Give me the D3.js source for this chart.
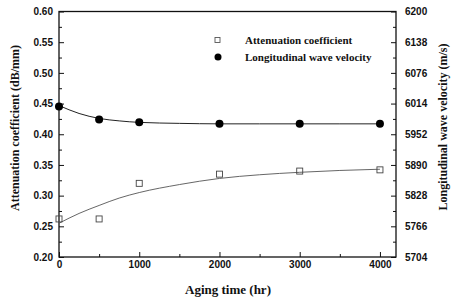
<!DOCTYPE html>
<html>
<head>
<meta charset="utf-8">
<script src="https://cdn.jsdelivr.net/npm/d3@7"></script>
<style>
  body { margin: 0; background: #fff; }
  .tick text { font-family: "Liberation Sans", Arial, sans-serif; font-weight: bold; font-size: 10px; fill: #111; }
  .title { font-family: "Liberation Serif", "Times New Roman", serif; font-weight: bold; font-size: 12px; fill: #111; }
  .legend { font-family: "Liberation Serif", "Times New Roman", serif; font-weight: bold; font-size: 11px; fill: #111; }
</style>
</head>
<body>
<div class="chart"></div>
<script>
const WIDTH = 451;
const HEIGHT = 303;
const LEFT = 59, RIGHT = 396, TOP = 11.5, BOTTOM = 257;

// measured points
var agingTime = [0, 500, 1000, 2000, 3000, 4000];
var attenuation = [0.262, 0.262, 0.320, 0.335, 0.340, 0.342];
var velocity = [6008, 5982, 5976, 5973, 5973, 5973];

// fitted curves
var fitTime = [0, 250, 500, 750, 1000, 1500, 2000, 2500, 3000, 3500, 4000];
var attenuationFit = [0.255, 0.271, 0.284, 0.296, 0.305, 0.318, 0.328, 0.334, 0.338, 0.341, 0.343];
var velocityFit = [6010, 5994, 5984, 5979, 5976, 5974, 5973, 5973, 5973, 5973, 5973];

var xTicks = [0, 1000, 2000, 3000, 4000];
var xMinor = [500, 1500, 2500, 3500];
var leftTicks = [0.20, 0.25, 0.30, 0.35, 0.40, 0.45, 0.50, 0.55, 0.60];
var leftMinor = [0.225, 0.275, 0.325, 0.375, 0.425, 0.475, 0.525, 0.575];
var rightTicks = [5704, 5766, 5828, 5890, 5952, 6014, 6076, 6138, 6200];
var rightMinor = [5735, 5797, 5859, 5921, 5983, 6045, 6107, 6169];

var translate = function (x, y) {
  return 'translate(' + x + ',' + y + ')';
};

var xScale = d3.scaleLinear().domain([0, 4200]).range([LEFT, RIGHT]);
var yLeft = d3.scaleLinear().domain([0.20, 0.60]).range([BOTTOM, TOP]);
var yRight = d3.scaleLinear().domain([5704, 6200]).range([BOTTOM, TOP]);

var svg = d3.select('.chart').append('svg')
  .attr('width', WIDTH)
  .attr('height', HEIGHT);

// minor ticks first
svg.append('g').attr('transform', translate(0, BOTTOM))
  .call(d3.axisBottom(xScale).tickValues(xMinor).tickSize(-3).tickFormat(''));
svg.append('g').attr('transform', translate(LEFT, 0))
  .call(d3.axisLeft(yLeft).tickValues(leftMinor).tickSize(-3).tickFormat(''));
svg.append('g').attr('transform', translate(RIGHT, 0))
  .call(d3.axisRight(yRight).tickValues(rightMinor).tickSize(-3).tickFormat(''));

svg.append('g').attr('transform', translate(0, BOTTOM))
  .call(d3.axisBottom(xScale).tickValues(xTicks).tickSize(-5).tickPadding(4).tickFormat(d3.format('d')));
svg.append('g').attr('transform', translate(LEFT, 0))
  .call(d3.axisLeft(yLeft).tickValues(leftTicks).tickSize(-5).tickPadding(6).tickFormat(d3.format('.2f')));
svg.append('g').attr('transform', translate(RIGHT, 0))
  .call(d3.axisRight(yRight).tickValues(rightTicks).tickSize(-5).tickPadding(9).tickFormat(d3.format('d')));

svg.selectAll('.domain').remove();
svg.selectAll('.tick line').attr('stroke', '#111').attr('stroke-width', 1);

// frame
svg.append('rect')
  .attr('x', LEFT).attr('y', TOP)
  .attr('width', RIGHT - LEFT).attr('height', BOTTOM - TOP)
  .attr('fill', 'none').attr('stroke', '#111').attr('stroke-width', 1.3);

// fit curves
var attLine = d3.line()
  .x(function (d, i) { return xScale(fitTime[i]); })
  .y(function (d) { return yLeft(d); })
  .curve(d3.curveMonotoneX);
var velLine = d3.line()
  .x(function (d, i) { return xScale(fitTime[i]); })
  .y(function (d) { return yRight(d); })
  .curve(d3.curveMonotoneX);

svg.append('path')
  .attr('d', attLine(attenuationFit))
  .attr('fill', 'none').attr('stroke', '#555').attr('stroke-width', 0.9);
svg.append('path')
  .attr('d', velLine(velocityFit))
  .attr('fill', 'none').attr('stroke', '#222').attr('stroke-width', 1);

// points
svg.selectAll('.sq').data(attenuation)
  .enter().append('rect')
  .attr('x', function (d, i) { return xScale(agingTime[i]) - 3; })
  .attr('y', function (d) { return yLeft(d) - 3; })
  .attr('width', 6).attr('height', 6)
  .attr('fill', 'none').attr('stroke', '#444').attr('stroke-width', 0.9);

svg.selectAll('.dot').data(velocity)
  .enter().append('circle')
  .attr('cx', function (d, i) { return xScale(agingTime[i]); })
  .attr('cy', function (d) { return yRight(d); })
  .attr('r', 4)
  .attr('fill', '#000');

// legend
svg.append('rect').attr('x', 215).attr('y', 37.5).attr('width', 5).attr('height', 5)
  .attr('fill', 'none').attr('stroke', '#555').attr('stroke-width', 0.9);
svg.append('text').attr('class', 'legend').attr('x', 245).attr('y', 44).text('Attenuation coefficient');
svg.append('circle').attr('cx', 218).attr('cy', 57).attr('r', 3.5).attr('fill', '#000');
svg.append('text').attr('class', 'legend').attr('x', 245).attr('y', 61).text('Longitudinal wave velocity');

// axis titles
svg.append('text').attr('class', 'title')
  .attr('text-anchor', 'middle')
  .style('font-size', '13px')
  .attr('x', 228).attr('y', 294)
  .text('Aging time (hr)');
svg.append('text').attr('class', 'title')
  .attr('text-anchor', 'middle')
  .attr('transform', translate(19, 128) + ' rotate(-90)')
  .text('Attenuation coefficient (dB/mm)');
svg.append('text').attr('class', 'title')
  .attr('text-anchor', 'middle')
  .attr('transform', translate(447, 127) + ' rotate(-90)')
  .text('Longitudinal wave velocity (m/s)');
</script>
</body>
</html>
